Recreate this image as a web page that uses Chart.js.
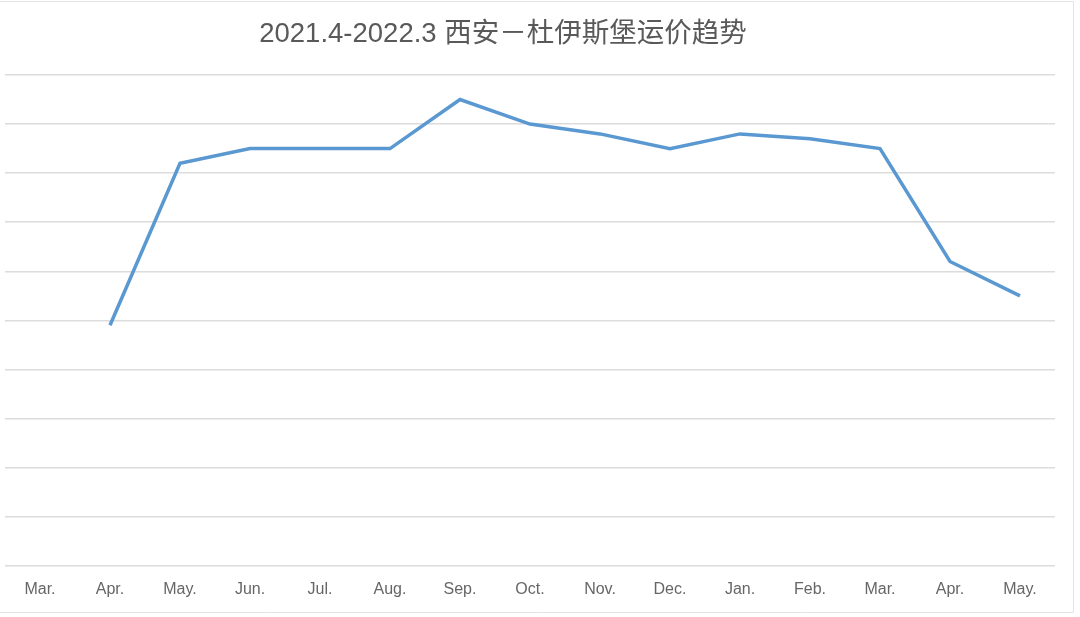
<!DOCTYPE html>
<html>
<head>
<meta charset="utf-8">
<script src="https://cdn.jsdelivr.net/npm/chart.js@4"></script>
<style>
  html, body { margin: 0; padding: 0; background: #fff; }
  #wrap { width: 1080px; height: 617px; position: relative; }
</style>
</head>
<body>
<div id="wrap"><canvas id="trendChart"></canvas></div>
<script>
// months shown on the x axis (Mar. 2021 - May 2022)
const months = ['Mar.', 'Apr.', 'May.', 'Jun.', 'Jul.', 'Aug.', 'Sep.', 'Oct.', 'Nov.', 'Dec.', 'Jan.', 'Feb.', 'Mar.', 'Apr.', 'May.'];
// freight trend (grid units, no y labels shown)
const freight = [null, 4.9, 8.2, 8.5, 8.5, 8.5, 9.5, 9.0, 8.8, 8.5, 8.8, 8.7, 8.5, 6.2, 5.5];
const yTicks = [0, 10, 1]; // min, max, step

const chartTitle = '2021.4-2022.3 西安－杜伊斯堡运价趋势';
const fontFamily = '"Liberation Sans", Arial, "Noto Sans CJK SC", sans-serif';

// title + frame drawn by hand so it sits where the original has it
const titleFrame = {
    id: 'titleFrame',
    beforeDraw(chart) {
        const ctx = chart.ctx;
        ctx.save();
        ctx.strokeStyle = '#e3e3e3';
        ctx.lineWidth = 1;
        ctx.beginPath();
        ctx.moveTo(0, 1.5);
        ctx.lineTo(1073.5, 1.5);
        ctx.lineTo(1073.5, 612.5);
        ctx.lineTo(0, 612.5);
        ctx.stroke();
        ctx.restore();
    },
    afterDraw(chart) {
        const ctx = chart.ctx;
        ctx.save();
        ctx.font = '27.5px ' + fontFamily;
        ctx.fillStyle = '#595959';
        ctx.textAlign = 'center';
        ctx.textBaseline = 'middle';
        ctx.fillText(chartTitle, 503, 34);
        ctx.restore();
    }
};

new Chart(document.getElementById('trendChart'), {
    type: 'line',
    data: {
        labels: months,
        datasets: [{
            data: freight,
            borderColor: '#5a98d1',
            borderWidth: 3.5,
            pointRadius: 0,
            fill: false,
            tension: 0
        }]
    },
    options: {
        responsive: true,
        maintainAspectRatio: false,
        animation: false,
        layout: {
            padding: { left: 5, right: 25, top: 75, bottom: 4 }
        },
        plugins: {
            legend: { display: false },
            title: { display: false },
            tooltip: { enabled: false }
        },
        scales: {
            x: {
                offset: true,
                grid: { display: false, drawTicks: false },
                border: { display: false },
                ticks: {
                    color: '#666',
                    padding: 14,
                    maxRotation: 0,
                    autoSkip: false,
                    font: { family: fontFamily, size: 16 }
                }
            },
            y: {
                min: yTicks[0],
                max: yTicks[1],
                ticks: { display: false, stepSize: yTicks[2] },
                grid: { color: '#dcdcdc', lineWidth: 1.5, drawTicks: false },
                border: { display: false }
            }
        }
    },
    plugins: [titleFrame]
});
</script>
</body>
</html>
